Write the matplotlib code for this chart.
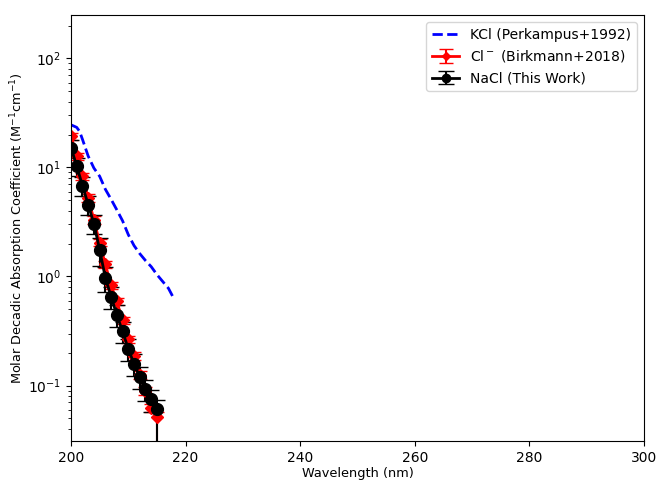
import numpy as np
import matplotlib
matplotlib.use("Agg")
import matplotlib.pyplot as plt

# KCl (Perkampus+1992)
kcl_wl = [200, 201, 201.5, 202, 203, 204, 205, 206, 207, 208, 209, 210, 211, 212, 213, 214, 215, 216, 217, 218]
kcl_val = [24.6, 23.3, 21.4, 18.1, 12.7, 9.86, 8.3, 6.3, 5.1, 4.08, 3.24, 2.42, 1.92, 1.62, 1.40, 1.23, 1.04, 0.90, 0.78, 0.62]

# Cl- (Birkmann+2018)
cl_wl = [200, 201, 202, 203, 204, 205, 206, 207, 208, 209, 210, 211, 212, 213, 214, 215]
cl_val = [19.3, 12.7, 8.3, 5.25, 3.31, 2.04, 1.29, 0.83, 0.59, 0.397, 0.267, 0.187, 0.125, 0.0895, 0.0626, 0.0519]
cl_err_lo = [1.5, 1.0, 0.6, 0.4, 0.25, 0.15, 0.1, 0.06, 0.045, 0.03, 0.02, 0.014, 0.01, 0.007, 0.005, 0.06]
cl_err_hi = [1.5, 1.0, 0.6, 0.4, 0.25, 0.15, 0.1, 0.06, 0.045, 0.03, 0.02, 0.014, 0.01, 0.007, 0.005, 0.005]

# NaCl (This Work)
nacl_wl = [200, 201, 202, 203, 204, 205, 206, 207, 208, 209, 210, 211, 212, 213, 214, 215]
nacl_val = [15.2, 10.3, 6.8, 4.56, 3.04, 1.76, 0.97, 0.653, 0.444, 0.313, 0.217, 0.158, 0.120, 0.0927, 0.0745, 0.0604]
nacl_err_lo = [2.5, 1.9, 1.3, 0.9, 0.6, 0.5, 0.25, 0.15, 0.1, 0.07, 0.05, 0.035, 0.027, 0.02, 0.017, 0.07]
nacl_err_hi = [2.5, 1.9, 1.3, 0.9, 0.6, 0.5, 0.25, 0.15, 0.1, 0.07, 0.05, 0.035, 0.027, 0.02, 0.017, 0.014]

fig = plt.figure(figsize=(6.57, 4.8), dpi=100)
ax = fig.add_axes([71/657, 1 - 441/480, (644-71)/657, (441-15)/480])

ax.plot(kcl_wl, kcl_val, '--', color='blue', lw=2, label='KCl (Perkampus+1992)')
ax.errorbar(cl_wl, cl_val, yerr=[cl_err_lo, cl_err_hi], fmt='D-', color='red', ms=6,
            lw=2, capsize=5, elinewidth=1.5, label='Cl$^-$ (Birkmann+2018)')
ax.errorbar(nacl_wl, nacl_val, yerr=[nacl_err_lo, nacl_err_hi], fmt='o-', color='black', ms=8.5,
            lw=2, capsize=6, elinewidth=1.5, label='NaCl (This Work)')

ax.set_yscale('log')
ax.set_xlim(200, 300)
ax.set_ylim(0.031, 250)
ax.set_xlabel('Wavelength (nm)', fontsize=9.3, labelpad=2)
ax.set_ylabel('Molar Decadic Absorption Coefficient (M$^{-1}$cm$^{-1}$)', fontsize=9.3, labelpad=0)
ax.tick_params(labelsize=10)
ax.legend(loc='upper right', markerscale=0.7, fontsize=10)

fig.savefig('out.png', dpi=100)
